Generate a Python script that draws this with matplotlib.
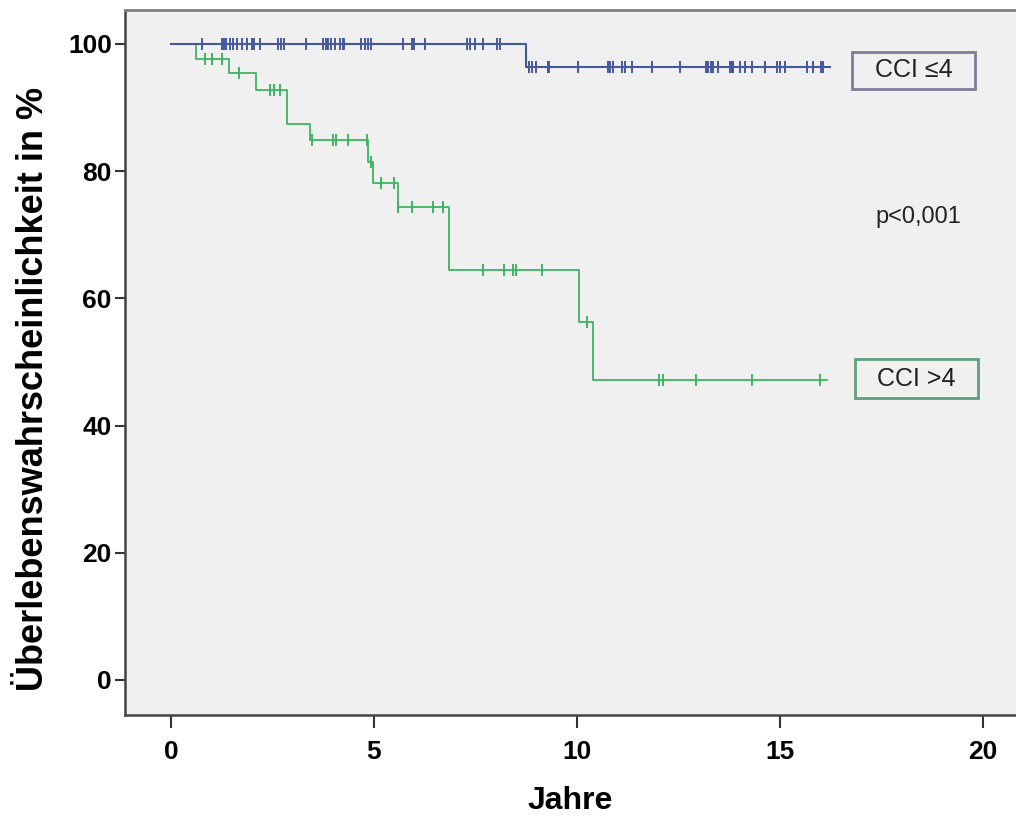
#!/usr/bin/env python3
import matplotlib
matplotlib.use("Agg")
import matplotlib.pyplot as plt
from matplotlib.patches import Rectangle
import numpy as np

plt.rcParams['font.family'] = ['Liberation Sans', 'DejaVu Sans']

# CCI <= 4 (blau)
blue_times = [0, 8.74]
blue_surv = [100, 96.4]
blue_end = 16.23
blue_censor = [0.77, 1.25, 1.31, 1.37, 1.45, 1.53, 1.63, 1.74, 1.88, 1.99, 2.05, 2.19,
               2.63, 2.70, 2.78, 3.33, 3.75, 3.81, 3.87, 3.95, 4.04, 4.16, 4.23, 4.27,
               4.68, 4.77, 4.85, 4.93, 5.72, 5.93, 5.99, 6.27, 7.28, 7.36, 7.49, 7.69,
               8.02, 8.10, 8.83, 8.90, 8.98, 9.29, 9.32, 10.03, 10.77, 10.81, 10.89,
               11.10, 11.18, 11.35, 11.84, 12.54, 13.18, 13.23, 13.29, 13.36, 13.48,
               13.77, 13.81, 13.85, 14.01, 14.14, 14.30, 14.63, 14.92, 15.00, 15.12,
               15.66, 15.82, 16.00, 16.07]

# CCI > 4 (gruen)
green_times = [0, 0.61, 1.44, 2.09, 2.85, 3.42, 4.86, 4.98, 5.60, 6.85, 10.06, 10.40]
green_surv = [100, 97.6, 95.4, 92.8, 87.4, 84.9, 81.5, 78.1, 74.4, 64.5, 56.3, 47.1]
green_end = 16.15
green_censor = [0.85, 1.02, 1.27, 1.68, 2.45, 2.55, 2.68, 3.47, 4.00, 4.06, 4.35, 4.82,
                4.92, 5.17, 5.50, 5.60, 5.93, 6.46, 6.69, 7.69, 8.20, 8.43, 8.51, 9.13,
                10.24, 12.03, 12.13, 12.92, 14.30, 15.99]

x_ticks = [0, 5, 10, 15, 20]
y_ticks = [0, 20, 40, 60, 80, 100]

BLUE = '#46589c'
GREEN = '#3fb463'
BG = '#f0f0f0'


def surv_at(times, surv, t):
    idx = np.searchsorted(times, t, side='right') - 1
    return np.asarray(surv)[idx]


fig = plt.figure(figsize=(10.16, 8.18), dpi=100)
ax = fig.add_axes([0.123, 0.126, 0.877, 0.862])
ax.set_facecolor(BG)

for times, surv, end, cens, col, lw in [(green_times, green_surv, green_end, green_censor, GREEN, 1.3),
                                        (blue_times, blue_surv, blue_end, blue_censor, BLUE, 1.5)]:
    xs = list(times) + [end]
    ys = list(surv) + [surv[-1]]
    ax.step(xs, ys, where='post', color=col, lw=lw, zorder=3)
    cy = surv_at(times, surv, np.array(cens))
    ax.plot(cens, cy, linestyle='none', marker='|', markersize=9, mew=1.4,
            color=col, zorder=4)

ax.set_xlim(-1.13, 20.81)
ax.set_ylim(-5.5, 105.35)
ax.set_xticks(x_ticks)
ax.set_yticks(y_ticks)
ax.tick_params(axis='both', labelsize=19, width=1.5, color='#333333')
ax.tick_params(axis='x', length=9, pad=9)
ax.tick_params(axis='y', length=7.5, pad=2)
for lab in ax.get_xticklabels() + ax.get_yticklabels():
    lab.set_fontweight('bold')

ax.spines['right'].set_visible(False)
ax.spines['top'].set_color('#808080')
ax.spines['top'].set_linewidth(2)
for s in ['left', 'bottom']:
    ax.spines[s].set_color('#444444')
    ax.spines[s].set_linewidth(1.8)

ax.set_xlabel('Jahre', fontsize=23, fontweight='bold', labelpad=16)
ax.set_ylabel('Überlebenswahrscheinlichkeit in %', fontsize=26, fontweight='bold')
ax.yaxis.set_label_coords(-0.083, 0.462)

# Beschriftungen der Kurven
ax.add_patch(Rectangle((0.816, 0.888), 0.138, 0.0525, transform=ax.transAxes,
                       facecolor=BG, edgecolor='#7c7c9c', lw=2, zorder=5))
ax.text(0.885, 0.914, 'CCI ≤4', transform=ax.transAxes, ha='center', va='center',
        fontsize=18, color='#222222', zorder=6)
ax.add_patch(Rectangle((0.819, 0.4496), 0.138, 0.0553, transform=ax.transAxes,
                       facecolor=BG, edgecolor='#5f9f7f', lw=2, zorder=5))
ax.text(0.888, 0.477, 'CCI >4', transform=ax.transAxes, ha='center', va='center',
        fontsize=18, color='#222222', zorder=6)
ax.text(0.890, 0.706, 'p<0,001', transform=ax.transAxes, ha='center', va='center',
        fontsize=17, color='#222222')

fig.savefig('out.png', dpi=100, facecolor='white')
